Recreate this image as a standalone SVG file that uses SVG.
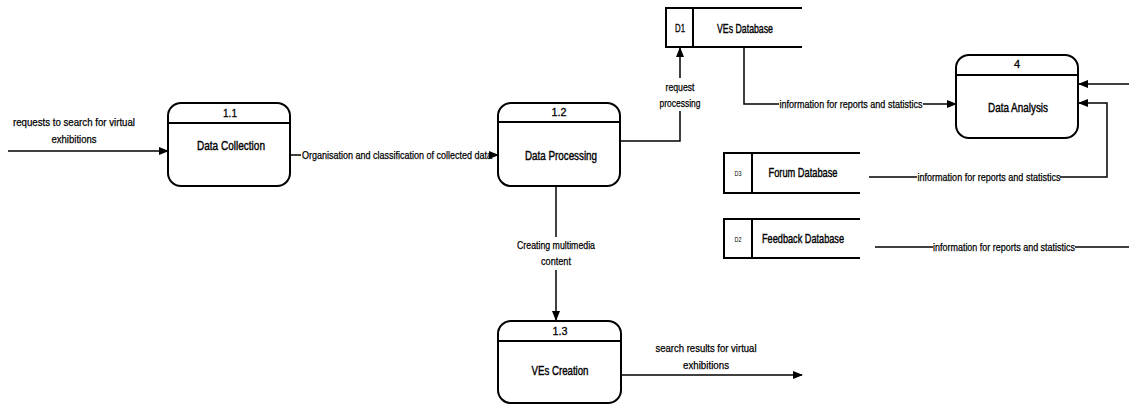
<svg xmlns="http://www.w3.org/2000/svg" width="1129" height="405" viewBox="0 0 1129 405">
<defs>
<marker id="ah" markerWidth="10" markerHeight="8" refX="9" refY="4" orient="auto" markerUnits="userSpaceOnUse">
<path d="M0,0 L10,4 L0,8 Z" fill="#000"/>
</marker>
</defs>
<style>
.box{fill:#fff;stroke:#000;stroke-width:2}
.div{stroke:#000;stroke-width:2}
.ln{fill:none;stroke:#000;stroke-width:1.5}
.t{font-family:"Liberation Sans",Arial,sans-serif;fill:#000;text-anchor:middle;dominant-baseline:central}
.pt{font-size:13px;stroke:#000;stroke-width:0.4}
.num{font-size:11px;stroke:#000;stroke-width:0.3}
.lb{font-size:11px;stroke:#000;stroke-width:0.25}
.ds{font-size:8px}
</style>
<rect width="1129" height="405" fill="#fff"/>
<g id="connectors">
<line class="ln" x1="8" y1="151" x2="168" y2="151" marker-end="url(#ah)"/>
<text class="t lb" x="74" y="122" textLength="122" lengthAdjust="spacingAndGlyphs">requests to search for virtual</text>
<text class="t lb" x="74" y="139" textLength="45" lengthAdjust="spacingAndGlyphs">exhibitions</text>
<line class="ln" x1="290" y1="155" x2="301" y2="155"/>
<line class="ln" x1="492" y1="155" x2="498" y2="155" marker-end="url(#ah)"/>
<text class="t lb" x="397" y="155" textLength="190" lengthAdjust="spacingAndGlyphs">Organisation and classification of collected data</text>
<polyline class="ln" points="620,141 680,141 680,111"/>
<line class="ln" x1="680" y1="78" x2="680" y2="48" marker-end="url(#ah)"/>
<text class="t lb" x="680" y="87" textLength="29" lengthAdjust="spacingAndGlyphs">request</text>
<text class="t lb" x="680" y="103" textLength="41" lengthAdjust="spacingAndGlyphs">processing</text>
<polyline class="ln" points="744,47 744,104 779,104"/>
<line class="ln" x1="923" y1="104" x2="956" y2="104" marker-end="url(#ah)"/>
<text class="t lb" x="851" y="104" textLength="143" lengthAdjust="spacingAndGlyphs">information for reports and statistics</text>
<line class="ln" x1="1129" y1="84" x2="1079" y2="84" marker-end="url(#ah)"/>
<polyline class="ln" points="1060,177 1107,177 1107,103 1079,103" marker-end="url(#ah)"/>
<line class="ln" x1="869" y1="177" x2="917" y2="177"/>
<text class="t lb" x="989" y="177" textLength="143" lengthAdjust="spacingAndGlyphs">information for reports and statistics</text>
<line class="ln" x1="875" y1="247" x2="933" y2="247"/>
<line class="ln" x1="1075" y1="247" x2="1129" y2="247"/>
<text class="t lb" x="1004" y="247" textLength="142" lengthAdjust="spacingAndGlyphs">information for reports and statistics</text>
<line class="ln" x1="556" y1="186" x2="556" y2="237"/>
<line class="ln" x1="556" y1="270" x2="556" y2="320" marker-end="url(#ah)"/>
<text class="t lb" x="556" y="245" textLength="78" lengthAdjust="spacingAndGlyphs">Creating multimedia</text>
<text class="t lb" x="556" y="261" textLength="30" lengthAdjust="spacingAndGlyphs">content</text>
<line class="ln" x1="621" y1="375" x2="802" y2="375" marker-end="url(#ah)"/>
<text class="t lb" x="706" y="348" textLength="101" lengthAdjust="spacingAndGlyphs">search results for virtual</text>
<text class="t lb" x="706" y="365" textLength="46" lengthAdjust="spacingAndGlyphs">exhibitions</text>
</g>
<g id="p11">
<rect class="box" x="168" y="103" width="122" height="83" rx="13"/>
<line class="div" x1="168" y1="123" x2="290" y2="123"/>
<text class="t num" x="230" y="113" textLength="14" lengthAdjust="spacingAndGlyphs">1.1</text>
<text class="t pt" x="231" y="145" textLength="68" lengthAdjust="spacingAndGlyphs">Data Collection</text>
</g>
<g id="p12">
<rect class="box" x="498" y="103" width="122" height="83" rx="13"/>
<line class="div" x1="498" y1="122" x2="620" y2="122"/>
<text class="t num" x="559" y="112" textLength="15" lengthAdjust="spacingAndGlyphs">1.2</text>
<text class="t pt" x="561" y="155" textLength="72" lengthAdjust="spacingAndGlyphs">Data Processing</text>
</g>
<g id="p13">
<rect class="box" x="498" y="321" width="123" height="82" rx="13"/>
<line class="div" x1="498" y1="341" x2="621" y2="341"/>
<text class="t num" x="560" y="331" textLength="15" lengthAdjust="spacingAndGlyphs">1.3</text>
<text class="t pt" x="560" y="370" textLength="57" lengthAdjust="spacingAndGlyphs">VEs Creation</text>
</g>
<g id="p4">
<rect class="box" x="956" y="55" width="122" height="83" rx="13"/>
<line class="div" x1="956" y1="75" x2="1078" y2="75"/>
<text class="t num" x="1017" y="64">4</text>
<text class="t pt" x="1018" y="107" textLength="60" lengthAdjust="spacingAndGlyphs">Data Analysis</text>
</g>
<g id="d1">
<rect class="box" x="666" y="8" width="27" height="39"/>
<line class="div" x1="693" y1="8" x2="802" y2="8"/>
<line class="div" x1="693" y1="47" x2="802" y2="47"/>
<text class="t num" x="680" y="28" textLength="10" lengthAdjust="spacingAndGlyphs">D1</text>
<text class="t pt" x="745" y="28" textLength="56" lengthAdjust="spacingAndGlyphs">VEs Database</text>
</g>
<g id="d3">
<rect class="box" x="724" y="153" width="28" height="40"/>
<line class="div" x1="752" y1="153" x2="860" y2="153"/>
<line class="div" x1="752" y1="193" x2="860" y2="193"/>
<text class="t ds" x="738" y="173" textLength="7" lengthAdjust="spacingAndGlyphs">D3</text>
<text class="t pt" x="803" y="172" textLength="69" lengthAdjust="spacingAndGlyphs">Forum Database</text>
</g>
<g id="d2">
<rect class="box" x="724" y="219" width="28" height="39"/>
<line class="div" x1="752" y1="219" x2="860" y2="219"/>
<line class="div" x1="752" y1="258" x2="860" y2="258"/>
<text class="t ds" x="738" y="239" textLength="7" lengthAdjust="spacingAndGlyphs">D2</text>
<text class="t pt" x="803" y="238" textLength="82" lengthAdjust="spacingAndGlyphs">Feedback Database</text>
</g>
</svg>
